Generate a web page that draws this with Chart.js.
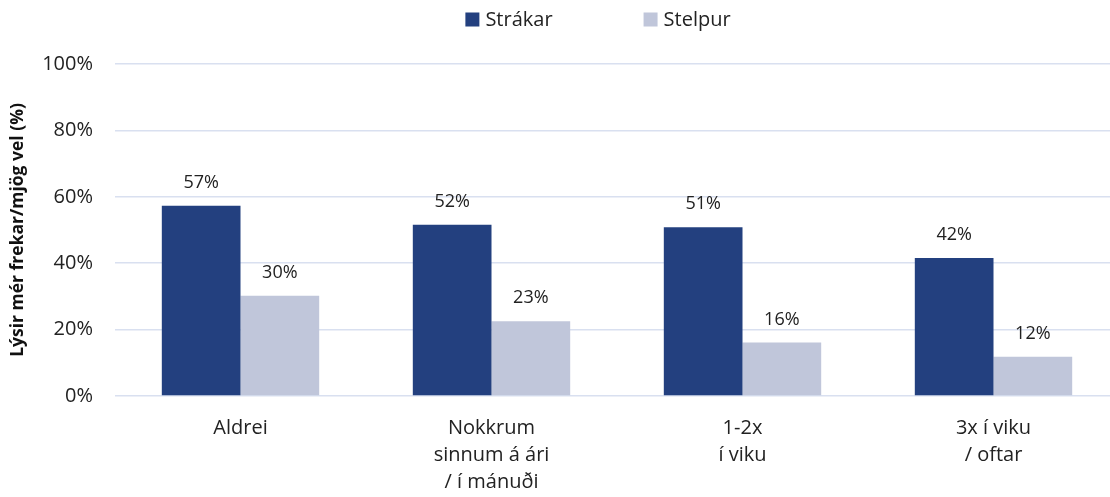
<!DOCTYPE html>
<html>
<head>
<meta charset="utf-8">
<script src="https://cdn.jsdelivr.net/npm/chart.js@4.4.0/dist/chart.umd.min.js"></script>
<style>
  html, body { margin: 0; padding: 0; background: #fff; overflow: hidden; }
  #wrap { width: 1110px; height: 497px; overflow: hidden; }
</style>
</head>
<body>
<div id="wrap"><canvas id="mycanvas" width="1120" height="497"></canvas></div>
<script>
var categories = [["Aldrei"], ["Nokkrum", "sinnum á ári", "/ í mánuði"], ["1-2x", "í viku"], ["3x í viku", "/ oftar"]];
var strakar = [57.3, 51.6, 50.8, 41.6];
var stelpur = [30.2, 22.5, 16.1, 11.8];
var yTicks = [0, 20, 40, 60, 80, 100];

var fontFamily = "'Open Sans', sans-serif";

// value labels above every bar
var valueLabels = {
	id: "valueLabels",
	afterDatasetsDraw: function(chart) {
		var ctx = chart.ctx;
		ctx.save();
		ctx.font = "18px " + fontFamily;
		ctx.fillStyle = "#222";
		ctx.textAlign = "center";
		ctx.textBaseline = "alphabetic";
		chart.data.datasets.forEach(function(ds, i) {
			var meta = chart.getDatasetMeta(i);
			meta.data.forEach(function(bar, j) {
				ctx.fillText(Math.round(ds.data[j]) + "%", bar.x, bar.y - 18);
			});
		});
		ctx.restore();
	}
};

// legend drawn by hand so the gap between items can be wide
var topLegend = {
	id: "topLegend",
	afterDraw: function(chart) {
		var ctx = chart.ctx;
		var gap = 91, box = 14, textGap = 6;
		ctx.save();
		ctx.font = "20px " + fontFamily;
		var widths = chart.data.datasets.map(function(ds) {
			return box + textGap + ctx.measureText(ds.label).width;
		});
		var total = widths.reduce(function(a, b) { return a + b; }, 0) + gap * (widths.length - 1);
		var x = 598 - total / 2;
		var y = 19.5;
		chart.data.datasets.forEach(function(ds, i) {
			ctx.fillStyle = ds.backgroundColor;
			ctx.fillRect(x, y - box / 2, box, box);
			ctx.fillStyle = "#222";
			ctx.textBaseline = "middle";
			ctx.textAlign = "left";
			ctx.fillText(ds.label, x + box + textGap, y + 1);
			x += widths[i] + gap;
		});
		ctx.restore();
	}
};

var chartdata = {
	labels: categories,
	datasets: [
		{
			label: "Strákar",
			backgroundColor: "#23407F",
			data: strakar
		},
		{
			label: "Stelpur",
			backgroundColor: "#C0C6DA",
			data: stelpur
		}
	]
};

var ctx = document.getElementById("mycanvas");

var BarGraph = new Chart(ctx, {
	type: "bar",
	data: chartdata,
	plugins: [valueLabels, topLegend],
	options: {
		responsive: false,
		animation: false,
		layout: { padding: { left: 8, right: 1, top: 64, bottom: 0 } },
		datasets: { bar: { categoryPercentage: 0.627, barPercentage: 1.0 } },
		plugins: {
			legend: { display: false },
			tooltip: { enabled: false }
		},
		scales: {
			x: {
				grid: { display: false },
				border: { display: false },
				afterFit: function(scale) { scale.height = 101; },
				ticks: {
					color: "#222",
					padding: 11,
					maxRotation: 0,
					font: { family: fontFamily, size: 20, lineHeight: 1.35 }
				}
			},
			y: {
				min: 0,
				max: 100,
				afterBuildTicks: function(axis) {
					axis.ticks = yTicks.map(function(v) { return { value: v }; });
				},
				afterFit: function(scale) { scale.width = 107; },
				grid: { color: "#D9E0F0", lineWidth: 1.5, drawTicks: false },
				border: { display: false },
				ticks: {
					color: "#222",
					padding: 22,
					font: { family: fontFamily, size: 20 },
					callback: function(v) { return v + "%"; }
				},
				title: {
					display: true,
					text: "Lýsir mér frekar/mjög vel (%)",
					color: "#111",
					font: { family: fontFamily, size: 17.5, weight: "bold" },
					padding: { top: 0, bottom: 4 }
				}
			}
		}
	}
});
</script>
</body>
</html>
